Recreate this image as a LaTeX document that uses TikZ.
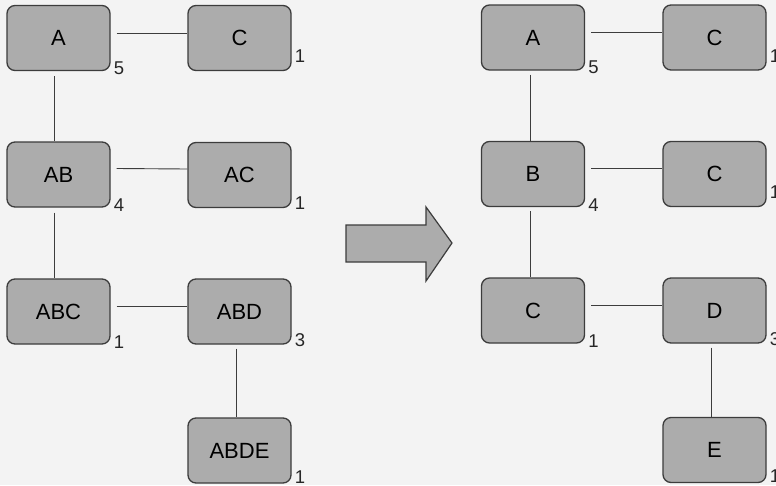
\documentclass[tikz,border=0pt]{standalone}
\usepackage{fontspec}
\setmainfont{Liberation Sans}
\definecolor{bg}{RGB}{243,243,243}
\definecolor{boxfill}{RGB}{172,172,172}
\definecolor{edge}{RGB}{60,60,60}
\begin{document}
\begin{tikzpicture}[x=1pt,y=-1pt,
  box/.style={draw=edge, fill=boxfill, rounded corners=8pt, minimum width=103pt, minimum height=65pt, inner sep=0pt, line width=1.3pt, font=\fontsize{22}{24}\selectfont},
  num/.style={anchor=south west, inner sep=0pt, font=\fontsize{18.5}{20}\selectfont, text=black!85},
  link/.style={draw=edge, line width=0.9pt}]
\fill[bg] (0,0) rectangle (776,485);
\useasboundingbox (0,0) rectangle (776,485);
% left tree
\node[box] (lA) at (58.5,38) {A};
\node[box] (lC) at (239.5,38) {C};
\node[box] (lAB) at (58.5,174.5) {AB};
\node[box] (lAC) at (239.5,175) {AC};
\node[box] (lABC) at (58.5,311.5) {ABC};
\node[box] (lABD) at (239.5,311.5) {ABD};
\node[box] (lABDE) at (239.5,450.5) {ABDE};
% right tree
\node[box] (rA) at (533,37.5) {A};
\node[box] (rC1) at (714.5,37.5) {C};
\node[box] (rB) at (533,174) {B};
\node[box] (rC2) at (714.5,174) {C};
\node[box] (rC3) at (533,310.5) {C};
\node[box] (rD) at (714.5,310.5) {D};
\node[box] (rE) at (714.5,450) {E};
% numbers
\node[num] (nlA) at ([xshift=3pt,yshift=-3.5pt]lA.south east) {5};
\node[num] (nlC) at ([xshift=3pt,yshift=8pt]lC.south east) {1};
\node[num] (nlAB) at ([xshift=3pt,yshift=-4.5pt]lAB.south east) {4};
\node[num] (nlAC) at ([xshift=3pt,yshift=-2pt]lAC.south east) {1};
\node[num] (nlABC) at ([xshift=3pt,yshift=-4pt]lABC.south east) {1};
\node[num] (nlABD) at ([xshift=3pt,yshift=-2pt]lABD.south east) {3};
\node[num] (nlABDE) at ([xshift=3pt,yshift=0pt]lABDE.south east) {1};
\node[num] (nrA) at ([xshift=3pt,yshift=-3.5pt]rA.south east) {5};
\node[num] (nrC1) at ([xshift=3pt,yshift=8pt]rC1.south east) {1};
\node[num] (nrB) at ([xshift=3pt,yshift=-4.5pt]rB.south east) {4};
\node[num] (nrC2) at ([xshift=3pt,yshift=8pt]rC2.south east) {1};
\node[num] (nrC3) at ([xshift=3pt,yshift=-4pt]rC3.south east) {1};
\node[num] (nrD) at ([xshift=3pt,yshift=-2pt]rD.south east) {3};
\node[num] (nrE) at ([xshift=3pt,yshift=0pt]rE.south east) {1};
% connectors left
\draw[link] ([xshift=6pt,yshift=5pt]lA.east) -- ([yshift=5pt]lC.west);
\draw[link] ([xshift=-4pt,yshift=-5pt]lA.south) -- ([xshift=-4pt]lAB.north);
\draw[link] ([xshift=6pt,yshift=6pt]lAB.east) -- ([yshift=6pt]lAC.west);
\draw[link] ([xshift=-4pt,yshift=-5pt]lAB.south) -- ([xshift=-4pt]lABC.north);
\draw[link] ([xshift=6pt,yshift=5pt]lABC.east) -- ([yshift=5pt]lABD.west);
\draw[link] ([xshift=-3pt,yshift=-4pt]lABD.south) -- ([xshift=-3pt]lABDE.north);
% connectors right
\draw[link] ([xshift=6pt,yshift=5pt]rA.east) -- ([yshift=5pt]rC1.west);
\draw[link] ([xshift=-3pt,yshift=-4pt]rA.south) -- ([xshift=-3pt]rB.north);
\draw[link] ([xshift=6pt,yshift=6pt]rB.east) -- ([yshift=6pt]rC2.west);
\draw[link] ([xshift=-3pt,yshift=-4pt]rB.south) -- ([xshift=-3pt]rC3.north);
\draw[link] ([xshift=6pt,yshift=5pt]rC3.east) -- ([yshift=5pt]rD.west);
\draw[link] ([xshift=-3pt,yshift=-4pt]rD.south) -- ([xshift=-3pt]rE.north);
% big arrow
\draw[draw=edge, fill=boxfill, line width=1.2pt, line join=miter]
  (346,225) -- (426,225) -- (426,207) -- (452,243) -- (426,281) -- (426,262) -- (346,262) -- cycle;
\end{tikzpicture}
\end{document}
